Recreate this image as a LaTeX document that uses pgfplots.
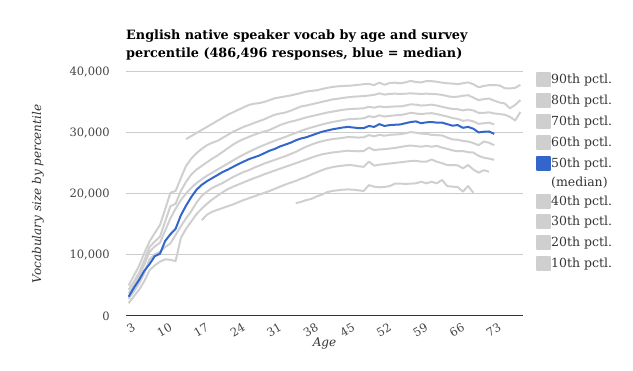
\documentclass[border=0pt]{standalone}
\usepackage{pgfplots}
\pgfplotsset{compat=1.18}
\usepackage{fontspec}
\setmainfont{DejaVu Serif}
\definecolor{lgray}{HTML}{CFCFCF}
\definecolor{mblue}{HTML}{3366CC}
\definecolor{gridc}{HTML}{CCCCCC}
\definecolor{tickc}{HTML}{444444}
\definecolor{basec}{HTML}{333333}
\begin{document}
\begin{tikzpicture}
\path[use as bounding box] (0,0) rectangle (633pt,371pt);
\begin{axis}[
  at={(126pt,55pt)}, anchor=south west,
  scale only axis, width=397pt, height=244pt,
  xmin=2.5, xmax=78.5, ymin=0, ymax=40000,
  xtick={3,10,...,73},
  ytick={0,10000,20000,30000,40000},
  scaled y ticks=false,
  /pgf/number format/assume math mode=true,
  /pgf/number format/1000 sep={,},
  major tick length=0pt,
  axis line style={draw=none},
  ymajorgrids,
  grid style={gridc, line width=1pt},
  extra y ticks={0},
  extra y tick labels={},
  extra y tick style={grid style={basec, line width=1pt}},
  tick label style={font=\fontsize{11.5}{14}\selectfont, text=tickc},
  yticklabel style={anchor=east, inner sep=0pt, xshift=-16pt},
  xticklabel style={rotate=30, anchor=north east, inner sep=0pt, yshift=-7pt},
  title={English native speaker vocab by age and survey\\percentile (486,496 responses, blue = median)},
  every axis title/.style={at={(axis description cs:0,1)}, anchor=south west, align=left, inner sep=0pt, yshift=11.5pt, font=\bfseries\fontsize{12.8}{17.7}\selectfont},
  xlabel={Age},
  ylabel={Vocabulary size by percentile},
  every axis x label/.style={at={(axis description cs:0.5,-0.113)}, anchor=center, font=\itshape\fontsize{12}{14}\selectfont, text=basec},
  every axis y label/.style={at={(axis description cs:-0.2217,0.5)}, anchor=center, rotate=90, font=\itshape\fontsize{12}{14}\selectfont, text=basec},
  legend style={at={(axis description cs:1.0327,1)}, anchor=north west, draw=none, fill=none, inner sep=0pt, row sep=5.9pt, font=\fontsize{12.5}{15}\selectfont, text=basec, nodes={inner sep=0pt}, /tikz/every even column/.append style={column sep=5pt}},
  legend cell align=left,
  legend image code/.code={\fill[#1] (0pt,-6.5pt) rectangle (13pt,6.5pt);},
  every axis plot/.append style={line width=2pt, line join=round},
]
% 10th
\addplot[lgray, forget plot] coordinates {(35,18500)(36,18700)(37,19000)(38,19200)(39,19600)(40,19900)(41,20300)(42,20500)(43,20600)(44,20700)(45,20750)(46,20700)(47,20600)(48,20500)(49,21450)(50,21200)(51,21100)(52,21150)(53,21300)(54,21700)(55,21700)(56,21650)(57,21700)(58,21750)(59,22000)(60,21750)(61,22000)(62,21750)(63,22300)(64,21300)(65,21200)(66,21150)(67,20400)(68,21300)(69,20200)};
% 20th
\addplot[lgray, forget plot] coordinates {(17,15700)(18,16600)(19,17100)(20,17400)(21,17700)(22,18000)(23,18300)(24,18650)(25,19000)(26,19300)(27,19600)(28,19900)(29,20200)(30,20500)(31,20850)(32,21200)(33,21550)(34,21850)(35,22150)(36,22500)(37,22800)(38,23200)(39,23550)(40,23900)(41,24200)(42,24400)(43,24550)(44,24650)(45,24750)(46,24700)(47,24550)(48,24450)(49,25300)(50,24650)(51,24800)(52,24900)(53,25000)(54,25100)(55,25200)(56,25300)(57,25400)(58,25450)(59,25300)(60,25300)(61,25650)(62,25300)(63,25050)(64,24750)(65,24750)(66,24700)(67,24200)(68,24750)(69,24000)(70,23500)(71,23900)(72,23650)};
% 30th
\addplot[lgray, forget plot] coordinates {(3,2100)(4,3200)(5,4300)(6,5700)(7,7500)(8,8300)(9,8900)(10,9300)(11,9200)(12,9000)(13,12800)(14,14300)(15,15500)(16,16700)(17,17600)(18,18400)(19,19100)(20,19700)(21,20300)(22,20800)(23,21200)(24,21550)(25,21900)(26,22250)(27,22600)(28,22900)(29,23250)(30,23550)(31,23850)(32,24150)(33,24450)(34,24750)(35,25050)(36,25350)(37,25650)(38,25950)(39,26250)(40,26500)(41,26650)(42,26800)(43,26900)(44,27000)(45,27100)(46,27050)(47,27000)(48,27050)(49,27600)(50,27200)(51,27300)(52,27350)(53,27450)(54,27550)(55,27700)(56,27850)(57,27950)(58,27850)(59,27750)(60,27900)(61,27750)(62,27900)(63,27600)(64,27400)(65,27150)(66,27000)(67,27050)(68,26850)(69,26800)(70,26250)(71,25950)(72,25800)(73,25600)};
% 40th
\addplot[lgray, forget plot] coordinates {(3,2800)(4,4000)(5,5300)(6,7000)(7,9300)(8,10100)(9,10500)(10,11300)(11,11900)(12,13300)(13,14700)(14,16000)(15,17200)(16,18600)(17,19700)(18,20400)(19,21000)(20,21400)(21,21800)(22,22300)(23,22800)(24,23200)(25,23600)(26,23900)(27,24300)(28,24650)(29,25000)(30,25300)(31,25600)(32,25900)(33,26200)(34,26550)(35,26900)(36,27350)(37,27750)(38,28100)(39,28400)(40,28650)(41,28850)(42,29000)(43,29100)(44,29200)(45,29350)(46,29300)(47,29250)(48,29300)(49,29650)(50,29450)(51,29700)(52,29550)(53,29700)(54,29750)(55,29800)(56,29950)(57,30150)(58,30050)(59,29900)(60,29850)(61,29700)(62,29650)(63,29600)(64,29250)(65,28950)(66,28900)(67,28700)(68,28600)(69,28350)(70,28000)(71,28600)(72,28400)(73,28000)};
% 60th
\addplot[lgray, forget plot] coordinates {(3,3700)(4,5000)(5,6500)(6,8400)(7,10500)(8,11400)(9,12000)(10,14000)(11,16000)(12,17600)(13,19000)(14,20100)(15,21000)(16,21800)(17,22400)(18,23000)(19,23500)(20,24000)(21,24500)(22,25000)(23,25500)(24,26000)(25,26450)(26,26900)(27,27300)(28,27700)(29,28050)(30,28400)(31,28750)(32,29050)(33,29350)(34,29700)(35,30000)(36,30350)(37,30650)(38,30900)(39,31150)(40,31400)(41,31600)(42,31800)(43,31950)(44,32100)(45,32250)(46,32300)(47,32350)(48,32400)(49,32750)(50,32600)(51,32900)(52,32700)(53,32800)(54,32900)(55,32950)(56,33100)(57,33300)(58,33200)(59,33100)(60,33200)(61,33250)(62,33100)(63,32900)(64,32700)(65,32450)(66,32300)(67,32000)(68,32100)(69,31900)(70,31500)(71,31600)(72,31700)(73,31400)};
% 70th
\addplot[lgray, forget plot] coordinates {(3,4300)(4,5600)(5,7100)(6,9100)(7,11300)(8,12200)(9,13000)(10,15500)(11,18000)(12,18400)(13,20500)(14,22000)(15,23200)(16,24000)(17,24600)(18,25200)(19,25800)(20,26300)(21,26900)(22,27500)(23,28100)(24,28600)(25,29000)(26,29350)(27,29700)(28,30000)(29,30250)(30,30500)(31,30900)(32,31300)(33,31600)(34,31850)(35,32050)(36,32300)(37,32550)(38,32750)(39,32950)(40,33150)(41,33350)(42,33500)(43,33650)(44,33800)(45,33900)(46,33950)(47,34000)(48,34050)(49,34300)(50,34150)(51,34350)(52,34250)(53,34300)(54,34350)(55,34350)(56,34500)(57,34700)(58,34650)(59,34500)(60,34550)(61,34650)(62,34500)(63,34300)(64,34100)(65,33950)(66,33900)(67,33700)(68,33850)(69,33700)(70,33300)(71,33300)(72,33400)(73,33200)(74,33100)(75,33000)(76,32650)(77,32050)(78,33450)};
% 80th
\addplot[lgray, forget plot] coordinates {(3,5000)(4,6600)(5,8200)(6,10300)(7,12200)(8,13600)(9,14900)(10,17500)(11,20200)(12,20500)(13,22600)(14,24600)(15,25800)(16,26700)(17,27400)(18,28000)(19,28400)(20,28700)(21,29200)(22,29700)(23,30200)(24,30600)(25,31000)(26,31300)(27,31650)(28,31950)(29,32250)(30,32650)(31,33000)(32,33200)(33,33350)(34,33650)(35,34000)(36,34350)(37,34500)(38,34700)(39,34900)(40,35100)(41,35300)(42,35500)(43,35600)(44,35750)(45,35850)(46,35950)(47,36000)(48,36050)(49,36150)(50,36250)(51,36500)(52,36300)(53,36400)(54,36450)(55,36400)(56,36450)(57,36500)(58,36450)(59,36400)(60,36450)(61,36400)(62,36350)(63,36250)(64,36050)(65,35900)(66,35950)(67,36100)(68,36200)(69,35800)(70,35400)(71,35550)(72,35650)(73,35300)(74,35000)(75,34850)(76,34050)(77,34600)(78,35400)};
% 90th
\addplot[lgray, forget plot] coordinates {(14,29000)(15,29500)(16,30000)(17,30500)(18,31000)(19,31500)(20,32000)(21,32500)(22,33000)(23,33400)(24,33800)(25,34200)(26,34600)(27,34800)(28,34900)(29,35100)(30,35400)(31,35700)(32,35850)(33,36000)(34,36150)(35,36350)(36,36550)(37,36800)(38,36900)(39,37000)(40,37200)(41,37400)(42,37550)(43,37650)(44,37700)(45,37750)(46,37800)(47,37900)(48,38000)(49,38050)(50,37850)(51,38250)(52,37900)(53,38200)(54,38250)(55,38150)(56,38300)(57,38550)(58,38350)(59,38300)(60,38500)(61,38500)(62,38400)(63,38250)(64,38150)(65,38100)(66,38000)(67,38150)(68,38300)(69,38000)(70,37500)(71,37700)(72,37850)(73,37850)(74,37800)(75,37350)(76,37300)(77,37400)(78,37900)};
% 50th (median)
\addplot[mblue, forget plot] coordinates {(3,3160)(4,4600)(5,5900)(6,7400)(7,8500)(8,9800)(9,10200)(10,12300)(11,13400)(12,14300)(13,16500)(14,18100)(15,19500)(16,20700)(17,21500)(18,22100)(19,22600)(20,23100)(21,23600)(22,24000)(23,24450)(24,24900)(25,25300)(26,25700)(27,26000)(28,26300)(29,26700)(30,27100)(31,27400)(32,27800)(33,28100)(34,28400)(35,28800)(36,29100)(37,29300)(38,29600)(39,29900)(40,30200)(41,30400)(42,30600)(43,30750)(44,30900)(45,31000)(46,30900)(47,30800)(48,30800)(49,31150)(50,31000)(51,31450)(52,31150)(53,31300)(54,31350)(55,31400)(56,31600)(57,31800)(58,31900)(59,31600)(60,31750)(61,31800)(62,31700)(63,31700)(64,31450)(65,31200)(66,31300)(67,30850)(68,31000)(69,30700)(70,30100)(71,30200)(72,30250)(73,29850)};
\addlegendimage{color=lgray}\addlegendentry{90th pctl.}
\addlegendimage{color=lgray}\addlegendentry{80th pctl.}
\addlegendimage{color=lgray}\addlegendentry{70th pctl.}
\addlegendimage{color=lgray}\addlegendentry{60th pctl.}
\addlegendimage{color=mblue}\addlegendentry{50th pctl.}
\addlegendimage{empty legend}\addlegendentry{(median)}
\addlegendimage{color=lgray}\addlegendentry{40th pctl.}
\addlegendimage{color=lgray}\addlegendentry{30th pctl.}
\addlegendimage{color=lgray}\addlegendentry{20th pctl.}
\addlegendimage{color=lgray}\addlegendentry{10th pctl.}
\end{axis}
\end{tikzpicture}
\end{document}
